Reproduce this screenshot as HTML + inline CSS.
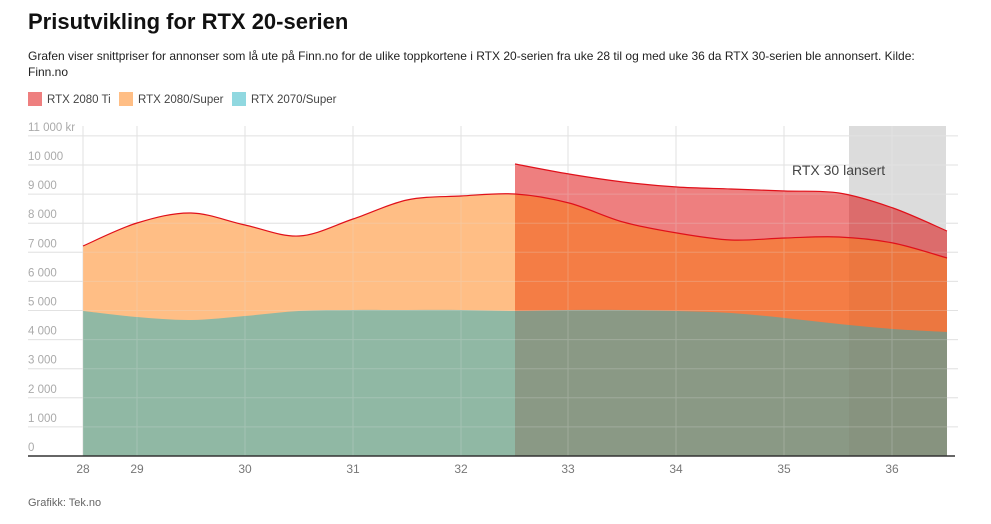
<!DOCTYPE html>
<html><head><meta charset="utf-8"><style>
body{margin:0;background:#fff;font-family:"Liberation Sans",Arial,sans-serif;}
.wrap{position:relative;width:991px;height:524px;overflow:hidden}
h1{position:absolute;left:28px;top:9px;margin:0;font-size:22px;font-weight:bold;color:#111}
.sub{position:absolute;left:28px;top:48px;width:915px;font-size:12px;line-height:16px;color:#222}
.leg{position:absolute;top:92px;font-size:11.5px;color:#444}
.leg span{display:inline-block;width:14px;height:14px;vertical-align:-3px;margin-right:5px}
.foot{position:absolute;left:28px;top:497px;font-size:11px;color:#666}
</style></head><body><div class="wrap">
<h1>Prisutvikling for RTX 20-serien</h1>
<div class="sub">Grafen viser snittpriser for annonser som lå ute på Finn.no for de ulike toppkortene i RTX 20-serien fra uke 28 til og med uke 36 da RTX 30-serien ble annonsert. Kilde: Finn.no</div>
<div class="leg" style="left:28px"><span style="background:#ee7f7f"></span>RTX 2080 Ti</div>
<div class="leg" style="left:119px"><span style="background:#ffbe85"></span>RTX 2080/Super</div>
<div class="leg" style="left:232px"><span style="background:#90d8e0"></span>RTX 2070/Super</div>
<svg id="s" width="991" height="524" style="position:absolute;left:0;top:0"></svg>
<div class="foot">Grafikk: Tek.no</div>
</div>
<script>
var s=document.getElementById('s'),h='',g='';
h+='<rect x="849" y="126" width="97" height="330" fill="#dcdcdc"/>';
for(var i=0;i<=11;i++){var y=456-i*29.1;
 if(i>0)g+='<line x1="28" x2="958" y1="'+y+'" y2="'+y+'" stroke="#e2e2e2"/>';
 h+='<text x="28" y="'+(y-5)+'" font-size="11.5" fill="#aaa">'+(i==0?'0':(i==11?'11 000 kr':i+' 000'))+'</text>';}
var xs=[[83,28],[137,29],[245,30],[353,31],[461,32],[568,33],[676,34],[784,35],[892,36]];
xs.forEach(function(a){g+='<line x1="'+a[0]+'" x2="'+a[0]+'" y1="126" y2="456" stroke="#e2e2e2"/>';
 h+='<text x="'+a[0]+'" y="473" font-size="12" fill="#777" text-anchor="middle">'+a[1]+'</text>';});
h+=g;
function P(pts){var d='M'+pts[0][0]+','+pts[0][1];for(var i=0;i<pts.length-1;i++){var p0=pts[i-1]||pts[i],p1=pts[i],p2=pts[i+1],p3=pts[i+2]||p2;
 d+=' C'+(p1[0]+(p2[0]-p0[0])/6)+','+(p1[1]+(p2[1]-p0[1])/6)+' '+(p2[0]-(p3[0]-p1[0])/6)+','+(p2[1]-(p3[1]-p1[1])/6)+' '+p2[0]+','+p2[1];}return d;}
function mk(ys,x0){return ys.map(function(y,i){return [x0+i*54,y]});}
var or=mk([246,223,213,225,236,219,200,196,194,203,222,233,240,238,237,243,258],83);
var rd=mk([164,174,182,187,189,191,193,208,231],515);
var te=mk([311,317,320,316,311,310,310,310,311,310,310,311,313,318,324,329,332],83);
function area(pts,fill){return '<path d="'+P(pts)+' L'+pts[pts.length-1][0]+',456 L'+pts[0][0]+',456Z" fill="'+fill+'"/>';}
h+='<defs><clipPath id="L"><rect x="0" y="0" width="515" height="524"/></clipPath><clipPath id="R"><rect x="515" y="0" width="334" height="524"/></clipPath><clipPath id="B"><rect x="849" y="0" width="200" height="524"/></clipPath></defs>';
h+='<g clip-path="url(#R)">'+area(rd,'#ee7f7f')+area(or,'#f47d45')+area(te,'#8a9985')+'</g>';
h+='<g clip-path="url(#L)">'+area(or,'#ffbe85')+area(te,'#90b8a4')+'</g>';
h+='<g clip-path="url(#B)">'+area(rd,'#dc6c6c')+area(or,'#ec7740')+area(te,'#87937f')+'</g>';
h+='<g opacity="0.25">'+g+'</g>';
h+='<path d="'+P(or)+'" fill="none" stroke="#e0101a" stroke-width="1.2"/>';
h+='<path d="'+P(rd)+'" fill="none" stroke="#e0101a" stroke-width="1.2"/>';
h+='<line x1="28" x2="955" y1="456" y2="456" stroke="#333" stroke-width="1.5"/>';
h+='<text x="792" y="175" font-size="14" fill="#444">RTX 30 lansert</text>';
s.innerHTML=h;
</script>
</body></html>
